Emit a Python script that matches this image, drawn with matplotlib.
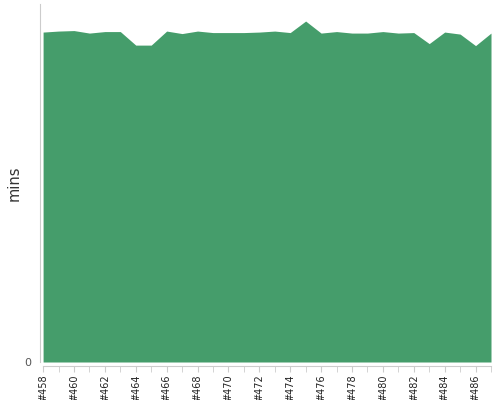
import matplotlib
matplotlib.use("Agg")
import matplotlib.pyplot as plt

# build numbers and duration (mins)
builds = list(range(458, 488))
mins = [32.9, 33.0, 33.05, 32.8, 32.95, 32.95, 31.6, 31.6, 33.0, 32.75,
        33.0, 32.85, 32.85, 32.85, 32.9, 33.0, 32.85, 34.0, 32.8, 32.95,
        32.8, 32.8, 32.95, 32.8, 32.85, 31.75, 32.9, 32.7, 31.55, 32.8]
tick_builds = builds[::2][:15]
tick_labels = ["#%d" % b for b in tick_builds]

fig = plt.figure(figsize=(5, 4), dpi=100)
ax = fig.add_axes([40 / 500, 38 / 400, 451 / 500, 358 / 400])

ax.fill_between(builds, 0, mins, color="#459d6b", linewidth=0)
ax.set_xlim(457.8, 487)
ax.set_ylim(0, 35.7)

ax.set_yticks([0])
ax.tick_params(axis="y", length=0, labelsize=8, labelcolor="#555555", pad=6)
ax.set_ylabel("mins", fontsize=10.5, color="#333333", labelpad=2)

ax.set_xticks(builds, minor=True)
ax.set_xticks(tick_builds, labels=tick_labels)
ax.tick_params(axis="x", which="both", length=4, color="#cccccc",
               labelsize=7, labelcolor="#222222", pad=2, labelrotation=90)

for s in ["top", "right"]:
    ax.spines[s].set_visible(False)
ax.spines["left"].set_color("#cccccc")
ax.spines["bottom"].set_color("#cccccc")
ax.spines["bottom"].set_position(("outward", 3))
ax.spines["bottom"].set_bounds(458, 487)

fig.savefig("out.png", dpi=100)
